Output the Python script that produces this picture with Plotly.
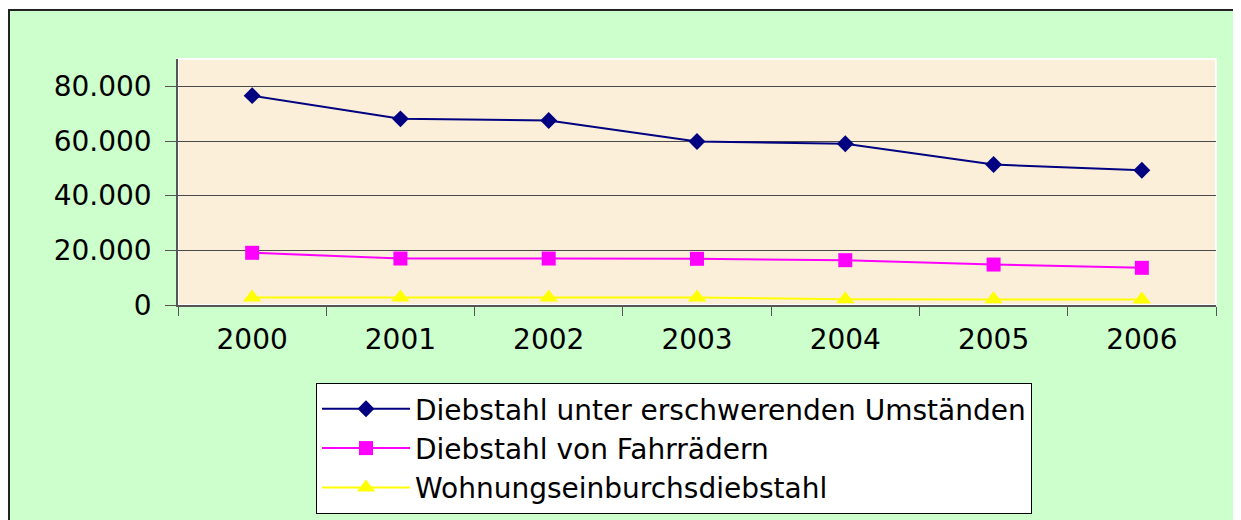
import plotly.graph_objects as go

years = ["2000", "2001", "2002", "2003", "2004", "2005", "2006"]
s_erschwerend = [76600, 68100, 67500, 59800, 59000, 51400, 49300]
s_fahrraeder = [19100, 17000, 17000, 16900, 16400, 14800, 13600]
s_wohnung = [2700, 2700, 2700, 2700, 2100, 2100, 2000]
names = ["Diebstahl unter erschwerenden Umständen",
         "Diebstahl von Fahrrädern",
         "Wohnungseinburchsdiebstahl"]
y_tickvals = [0, 20000, 40000, 60000, 80000]
y_ticktext = ["0", "20.000", "40.000", "60.000", "80.000"]

OFF = 8  # page body margin
PW, PH = 1241, 520
W, H = PW - OFF, PH - OFF
# plot area in page coordinates
L, R, T, B = 178, 1216, 59, 305
FONT = "DejaVu Sans"
FS = 28

def px(x):
    return (x - L) / (R - L)

def py(y):
    return (B - y) / (B - T)

fig = go.Figure()
fig.add_trace(go.Scatter(x=years, y=s_erschwerend, name=names[0], mode="lines+markers",
                         line=dict(color="#000080", width=2),
                         marker=dict(symbol="diamond", size=13, color="#000080"),
                         legendgroup="a"))
fig.add_trace(go.Scatter(x=years, y=s_fahrraeder, name=names[1], mode="lines+markers",
                         line=dict(color="#FF00FF", width=2),
                         marker=dict(symbol="square", size=14, color="#FF00FF"),
                         legendgroup="b"))
fig.add_trace(go.Scatter(x=years, y=s_wohnung, name=names[2], mode="lines+markers",
                         line=dict(color="#FFFF00", width=2),
                         marker=dict(symbol="triangle-up", size=16, color="#FFFF00"),
                         legendgroup="c"))

shapes = [
    # white strip above the outer frame
    dict(type="rect", xref="paper", yref="paper", x0=px(0), x1=px(PW + 10), y0=py(10), y1=py(0),
         fillcolor="white", line=dict(width=0), layer="below"),
    # outer frame
    dict(type="rect", xref="paper", yref="paper", x0=px(9), x1=px(1240), y0=py(PH + 20), y1=py(10),
         fillcolor="rgba(0,0,0,0)", line=dict(color="#222222", width=2), layer="below"),
    # plot area light border
    dict(type="rect", xref="paper", yref="paper", x0=0, x1=1, y0=0, y1=1,
         fillcolor="rgba(0,0,0,0)", line=dict(color="#FFFFFF", width=2), layer="below"),
]

fig.update_layout(
    width=W, height=H,
    margin=dict(l=L - OFF, r=PW - R, t=T - OFF, b=PH - B, pad=0, autoexpand=False),
    paper_bgcolor="#CCFFCC",
    plot_bgcolor="#FBEFDA",
    font=dict(family=FONT, size=FS, color="black"),
    showlegend=True,
    legend=dict(x=px(316), y=py(383), xanchor="left", yanchor="top",
                bgcolor="white", bordercolor="black", borderwidth=1,
                font=dict(family=FONT, size=FS, color="black"),
                traceorder="grouped", tracegroupgap=0, itemwidth=88),
    shapes=shapes,
    xaxis=dict(type="category", showgrid=False, showline=True, linecolor="#555555", linewidth=1.5,
               ticks="outside", ticklen=9, tickcolor="#555555", tickson="boundaries",
               ticklabelstandoff=9, tickfont=dict(family=FONT, size=FS, color="black"),
               range=[-0.5, 6.5], zeroline=False),
    yaxis=dict(range=[0, 90000], tickvals=y_tickvals, ticktext=y_ticktext,
               showgrid=True, gridcolor="#4a4a4a", gridwidth=1,
               showline=True, linecolor="#555555", linewidth=1.5,
               ticks="outside", ticklen=11, tickcolor="#555555",
               ticklabelstandoff=8, tickfont=dict(family=FONT, size=FS, color="black"),
               zeroline=False),
)

fig.write_html("out.html")
